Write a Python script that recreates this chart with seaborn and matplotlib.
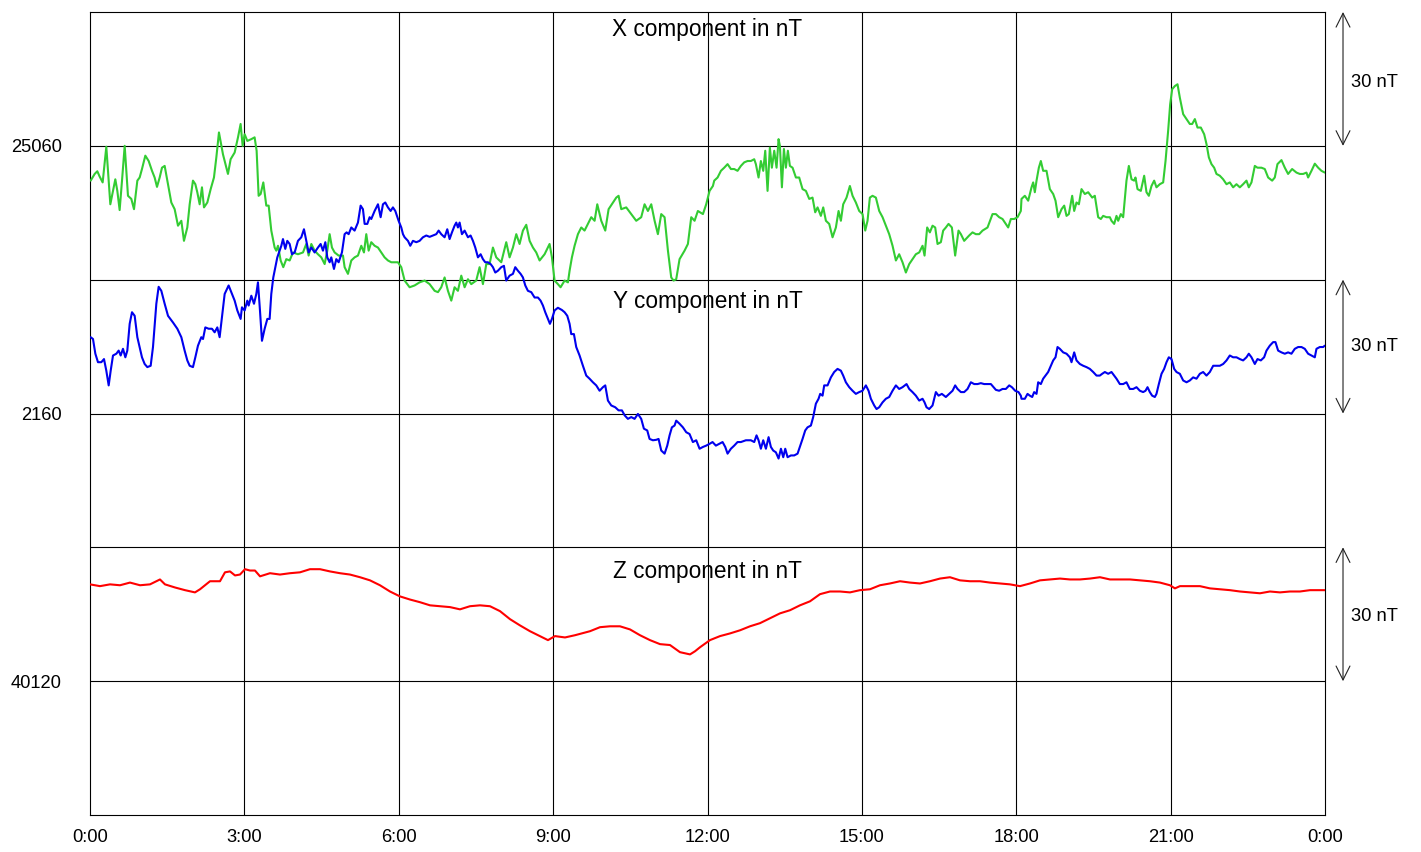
import pandas as pd
import seaborn as sns
import matplotlib.pyplot as plt

# X component (nT), hours UT
x_hours = [0.013, 0.091, 0.142, 0.188, 0.246, 0.317, 0.395, 0.447, 0.492, 0.531, 0.576, 0.622, 0.674, 0.738, 0.803, 0.855,
           0.920, 0.965, 1.010, 1.075, 1.140, 1.205, 1.256, 1.302, 1.354, 1.399, 1.451, 1.516, 1.580, 1.645, 1.710, 1.775,
           1.826, 1.891, 1.937, 2.001, 2.047, 2.085, 2.131, 2.176, 2.215, 2.280, 2.345, 2.409, 2.455, 2.506, 2.584, 2.681,
           2.733, 2.811, 2.876, 2.927, 2.966, 3.005, 3.057, 3.135, 3.199, 3.238, 3.277, 3.316, 3.368, 3.426, 3.472, 3.523,
           3.588, 3.620, 3.653, 3.705, 3.756, 3.815, 3.880, 3.944, 4.041, 4.139, 4.203, 4.249, 4.301, 4.365, 4.430, 4.495,
           4.560, 4.611, 4.657, 4.702, 4.754, 4.832, 4.916, 4.948, 5.013, 5.078, 5.142, 5.207, 5.272, 5.324, 5.369, 5.415,
           5.466, 5.531, 5.596, 5.661, 5.725, 5.790, 5.855, 5.984, 6.049, 6.082,
           6.114, 6.211, 6.308, 6.405, 6.503, 6.600, 6.697, 6.762, 6.826, 6.891, 6.956, 7.021, 7.085, 7.150, 7.215, 7.280,
           7.345, 7.409, 7.506, 7.571, 7.636, 7.701, 7.765, 7.830, 7.895, 7.992, 8.089, 8.154, 8.219, 8.284, 8.348, 8.413,
           8.478, 8.543, 8.608, 8.672, 8.737, 8.834, 8.931, 8.977, 9.028, 9.093, 9.145, 9.223, 9.288, 9.320, 9.365, 9.417,
           9.482, 9.547, 9.611, 9.676, 9.741, 9.806, 9.858, 9.935, 10.013, 10.078, 10.142, 10.227, 10.272, 10.324, 10.421,
           10.518, 10.615, 10.712, 10.777, 10.842, 10.907, 10.972, 11.036, 11.101, 11.166, 11.231, 11.295, 11.341, 11.392,
           11.457, 11.554, 11.619, 11.684, 11.749, 11.813, 11.911, 11.975, 12.040, 12.105,
           12.131, 12.196, 12.261, 12.325, 12.390, 12.455, 12.519, 12.584, 12.649, 12.714, 12.779, 12.843, 12.908, 12.940,
           12.992, 13.037, 13.083, 13.122, 13.167, 13.212, 13.251, 13.297, 13.342, 13.381, 13.407, 13.446, 13.485, 13.523,
           13.562, 13.601, 13.653, 13.718, 13.782, 13.847, 13.912, 13.977, 14.041, 14.093, 14.139, 14.203, 14.249, 14.301,
           14.365, 14.430, 14.495, 14.547, 14.592, 14.637, 14.702, 14.767, 14.819, 14.883, 14.948, 15.013, 15.065, 15.110,
           15.155, 15.207, 15.272, 15.337, 15.402, 15.466, 15.531, 15.596, 15.661, 15.725, 15.790, 15.855, 15.920, 15.984,
           16.049, 16.114, 16.179, 16.218, 16.269, 16.321, 16.373, 16.425, 16.470, 16.535, 16.580, 16.632, 16.684, 16.749,
           16.813, 16.878, 16.924, 16.988, 17.085, 17.150, 17.215, 17.280, 17.345, 17.442, 17.539, 17.604, 17.668, 17.733,
           17.798, 17.843, 17.895, 17.960, 18.025, 18.089,
           18.102, 18.167, 18.232, 18.297, 18.329, 18.361, 18.394, 18.439, 18.478, 18.523, 18.588, 18.653, 18.718, 18.763,
           18.815, 18.880, 18.932, 18.977, 19.022, 19.087, 19.126, 19.171, 19.217, 19.268, 19.333, 19.398, 19.476, 19.527,
           19.592, 19.644, 19.689, 19.754, 19.819, 19.851, 19.903, 19.948, 19.981, 20.032, 20.078, 20.142, 20.188, 20.240,
           20.291, 20.317, 20.356, 20.421, 20.486, 20.531, 20.577, 20.628, 20.680, 20.725, 20.790, 20.855, 20.901, 20.952,
           20.991, 21.030, 21.082, 21.134, 21.179, 21.244, 21.309, 21.373, 21.419, 21.471, 21.522, 21.587, 21.652, 21.697,
           21.743, 21.794, 21.846, 21.891, 21.956, 22.021, 22.086, 22.150, 22.215, 22.280, 22.345, 22.409, 22.474, 22.519,
           22.571, 22.636, 22.688, 22.765, 22.830, 22.895, 22.973, 23.024, 23.076, 23.154, 23.219, 23.283, 23.361, 23.446,
           23.510, 23.575, 23.640, 23.672, 23.737, 23.802, 23.867, 23.931, 23.996]
x_nt = [25052.2, 25053.7, 25054.3, 25053.1, 25051.8, 25059.8, 25046.9, 25049.9, 25052.5, 25049.9, 25045.6, 25052.2, 25060.0,
        25048.8, 25048.1, 25045.8, 25052.2, 25052.9, 25054.8, 25057.8, 25056.6, 25054.4, 25052.9, 25050.8, 25052.9, 25055.1,
        25055.5, 25051.4, 25047.3, 25045.8, 25042.1, 25043.2, 25038.7, 25041.7, 25046.9, 25052.2, 25051.4, 25049.6, 25046.9,
        25050.7, 25046.2, 25047.3, 25050.3, 25052.9, 25057.4, 25063.0, 25058.1, 25053.7, 25057.0, 25058.5, 25061.9, 25064.9,
        25060.0, 25062.6, 25061.1, 25061.5, 25061.9, 25058.9, 25048.8, 25049.2, 25051.8, 25046.6, 25046.6, 25041.0, 25037.2,
        25036.5, 25037.6, 25034.3, 25032.8, 25034.6, 25034.3, 25036.1, 25035.7, 25036.1, 25038.0, 25035.4, 25038.0, 25036.5,
        25035.7, 25035.0, 25033.5, 25036.5, 25040.2, 25037.2, 25036.1, 25035.4, 25035.4, 25032.8, 25031.3, 25034.3, 25035.0,
        25035.4, 25037.6, 25036.1, 25040.2, 25036.5, 25038.4, 25037.6, 25037.2, 25036.1, 25035.0, 25034.3, 25033.9, 25033.9,
        25032.8, 25031.3,
        25029.8, 25028.3, 25028.7, 25029.4, 25029.8, 25029.0, 25027.5, 25027.2, 25028.3, 25030.5, 25027.5, 25025.3, 25028.3,
        25027.5, 25030.9, 25028.3, 25030.1, 25029.0, 25029.8, 25032.8, 25029.0, 25033.5, 25033.5, 25037.2, 25035.0, 25033.9,
        25038.4, 25035.0, 25037.2, 25040.2, 25038.0, 25041.0, 25042.3, 25038.7, 25037.2, 25036.1, 25034.3, 25035.7, 25038.0,
        25035.0, 25029.8, 25029.0, 25028.3, 25029.8, 25029.4, 25032.0, 25035.0, 25037.6, 25040.2, 25041.7, 25041.0, 25042.5,
        25044.0, 25043.2, 25046.9, 25043.2, 25041.0, 25045.8, 25046.9, 25048.4, 25048.8, 25045.8, 25046.2, 25044.7, 25043.2,
        25044.0, 25046.9, 25045.4, 25046.9, 25043.2, 25040.2, 25044.7, 25044.0, 25036.5, 25030.5, 25029.8, 25030.1, 25034.6,
        25036.5, 25038.0, 25044.0, 25043.2, 25045.4, 25044.7, 25046.9, 25049.9, 25051.0,
        25052.2, 25052.9, 25054.4, 25055.1, 25055.9, 25054.8, 25054.8, 25054.4, 25055.5, 25056.3, 25056.6, 25056.6, 25057.0,
        25055.9, 25052.9, 25056.6, 25054.4, 25058.9, 25049.9, 25059.6, 25055.1, 25058.9, 25055.1, 25061.5, 25060.0, 25050.7,
        25059.3, 25055.1, 25058.9, 25055.5, 25055.1, 25052.9, 25052.9, 25050.3, 25049.9, 25048.1, 25048.4, 25045.1, 25046.2,
        25044.3, 25046.2, 25043.2, 25042.5, 25039.5, 25041.7, 25045.4, 25043.2, 25046.9, 25048.4, 25051.0, 25048.8, 25047.3,
        25045.4, 25044.7, 25041.0, 25043.2, 25048.4, 25048.8, 25048.4, 25045.4, 25044.0, 25042.1, 25040.2, 25037.6, 25034.3,
        25035.7, 25033.9, 25031.6, 25033.5, 25034.6, 25035.7, 25036.1, 25037.6, 25035.4, 25041.7, 25040.6, 25042.1, 25041.7,
        25038.0, 25038.4, 25041.0, 25041.7, 25042.5, 25041.7, 25035.4, 25041.0, 25040.2, 25038.7, 25039.9, 25040.6, 25040.2,
        25040.2, 25041.0, 25041.7, 25044.7, 25044.7, 25044.0, 25043.6, 25042.5, 25041.7, 25043.6, 25043.6, 25044.0, 25045.4,
        25048.1, 25048.8, 25047.7, 25050.7, 25051.8, 25049.6, 25052.2, 25055.1, 25056.6, 25054.4, 25054.4, 25050.3, 25049.2,
        25047.7, 25044.0, 25045.8, 25046.6, 25044.3, 25044.7, 25048.8, 25045.4, 25047.3, 25046.9, 25050.3, 25049.2, 25049.6,
        25048.4, 25048.8, 25044.0, 25043.6, 25044.3, 25044.0, 25044.0, 25043.2, 25042.5, 25044.3, 25043.2, 25044.7, 25044.0,
        25052.2, 25055.5, 25052.5, 25052.2, 25052.9, 25050.3, 25049.9, 25053.3, 25049.6, 25048.8, 25051.0, 25052.2, 25050.7,
        25051.4, 25051.8, 25056.6, 25063.4, 25069.3, 25072.7, 25073.4, 25073.8, 25070.8, 25067.1, 25066.0, 25064.9, 25064.9,
        25066.0, 25064.1, 25064.1, 25062.6, 25060.4, 25057.4, 25055.9, 25055.1, 25053.7, 25053.3, 25052.5, 25051.4, 25051.8,
        25050.7, 25051.4, 25050.7, 25051.4, 25052.2, 25050.7, 25051.8, 25055.5, 25055.1, 25055.1, 25054.8, 25052.9, 25052.2,
        25052.9, 25055.9, 25056.8, 25055.1, 25053.7, 25054.8, 25054.0, 25053.7, 25053.7, 25054.0, 25052.9, 25054.4, 25056.0,
        25055.1, 25054.4, 25054.0]

# Y component (nT)
y_hours = [0.013, 0.058, 0.104, 0.155, 0.220, 0.272, 0.317, 0.363, 0.402, 0.447, 0.512, 0.557, 0.596, 0.641, 0.687, 0.725,
           0.771, 0.816, 0.868, 0.920, 0.965, 1.010, 1.062, 1.114, 1.179, 1.224, 1.289, 1.334, 1.386, 1.451, 1.516, 1.613,
           1.697, 1.775, 1.839, 1.891, 1.937, 2.001, 2.047, 2.098, 2.163, 2.196, 2.241, 2.306, 2.370, 2.422, 2.474, 2.519,
           2.565, 2.617, 2.694, 2.759, 2.811, 2.863, 2.927, 2.953, 3.005, 3.057, 3.083, 3.135, 3.187, 3.232, 3.264, 3.303,
           3.342, 3.394, 3.446, 3.491, 3.523, 3.562, 3.601, 3.640, 3.685, 3.718, 3.750, 3.795, 3.834, 3.880, 3.925, 3.977,
           4.041, 4.106, 4.158, 4.203, 4.249, 4.301, 4.365, 4.430, 4.482, 4.527, 4.573, 4.611, 4.657, 4.689, 4.741, 4.786,
           4.832, 4.896, 4.948, 4.987, 5.026, 5.078, 5.142, 5.207, 5.259, 5.304, 5.337, 5.389, 5.434, 5.466, 5.531, 5.596,
           5.648, 5.693, 5.738, 5.790, 5.842, 5.887, 5.933, 5.997, 6.049, 6.082,
           6.114, 6.179, 6.224, 6.276, 6.341, 6.405, 6.470, 6.535, 6.600, 6.664, 6.729, 6.775, 6.826, 6.891, 6.943, 6.988,
           7.034, 7.085, 7.118, 7.150, 7.183, 7.228, 7.280, 7.345, 7.396, 7.442, 7.487, 7.539, 7.591, 7.636, 7.681, 7.733,
           7.785, 7.830, 7.876, 7.927, 7.992, 8.044, 8.089, 8.154, 8.219, 8.264, 8.316, 8.368, 8.413, 8.459, 8.510, 8.575,
           8.640, 8.705, 8.756, 8.802, 8.847, 8.899, 8.938, 8.977, 9.028, 9.093, 9.171, 9.223, 9.275, 9.320, 9.352, 9.404,
           9.449, 9.514, 9.579, 9.644, 9.708, 9.773, 9.838, 9.903, 9.968, 10.013, 10.065, 10.130, 10.207, 10.272, 10.337,
           10.389, 10.453, 10.518, 10.583, 10.648, 10.712, 10.764, 10.829, 10.874, 10.939, 11.004, 11.049, 11.101, 11.166,
           11.218, 11.263, 11.308, 11.360, 11.392, 11.457, 11.522, 11.587, 11.651, 11.716, 11.781, 11.846, 11.911, 11.975,
           12.040,
           12.098, 12.163, 12.228, 12.293, 12.345, 12.390, 12.455, 12.519, 12.584, 12.649, 12.746, 12.843, 12.908, 12.953,
           12.992, 13.037, 13.083, 13.135, 13.187, 13.232, 13.277, 13.329, 13.381, 13.427, 13.472, 13.511, 13.556, 13.621,
           13.685, 13.750, 13.795, 13.847, 13.899, 13.944, 14.009, 14.054, 14.106, 14.158, 14.190, 14.236, 14.268, 14.333,
           14.398, 14.462, 14.527, 14.592, 14.637, 14.689, 14.754, 14.819, 14.883, 14.948, 15.013, 15.078, 15.130, 15.175,
           15.240, 15.285, 15.337, 15.402, 15.466, 15.531, 15.596, 15.661, 15.725, 15.790, 15.868, 15.920, 15.984, 16.049,
           16.114, 16.179, 16.218, 16.256, 16.308, 16.373, 16.438, 16.490, 16.554, 16.632, 16.697, 16.762, 16.813, 16.859,
           16.924, 16.988, 17.053, 17.118, 17.183, 17.248, 17.312, 17.377, 17.442, 17.507, 17.552, 17.604, 17.668, 17.733,
           17.798, 17.863, 17.915, 17.979, 18.044, 18.089,
           18.102, 18.167, 18.219, 18.264, 18.310, 18.348, 18.394, 18.426, 18.478, 18.523, 18.569, 18.620, 18.672, 18.718,
           18.763, 18.802, 18.847, 18.912, 18.977, 19.042, 19.074, 19.126, 19.171, 19.236, 19.301, 19.365, 19.430, 19.495,
           19.560, 19.624, 19.670, 19.722, 19.786, 19.851, 19.903, 19.948, 20.013, 20.078, 20.142, 20.207, 20.272, 20.337,
           20.402, 20.466, 20.512, 20.551, 20.596, 20.641, 20.693, 20.725, 20.771, 20.823, 20.874, 20.920, 20.965, 21.017,
           21.069, 21.114, 21.179, 21.244, 21.309, 21.373, 21.438, 21.503, 21.568, 21.632, 21.697, 21.762, 21.827, 21.891,
           21.956, 22.021, 22.086, 22.150, 22.215, 22.280, 22.345, 22.409, 22.474, 22.519, 22.571, 22.636, 22.688, 22.753,
           22.817, 22.863, 22.927, 22.992, 23.037, 23.089, 23.154, 23.219, 23.283, 23.348, 23.413, 23.478, 23.543, 23.607,
           23.672, 23.737, 23.802, 23.834, 23.899, 23.964, 23.996]
y_nt = [2177.1, 2176.7, 2173.4, 2171.5, 2171.5, 2172.2, 2169.6, 2166.3, 2169.6, 2173.0, 2173.4, 2174.1, 2173.0, 2174.5,
        2172.6, 2174.1, 2180.1, 2182.7, 2181.9, 2177.1, 2174.9, 2172.6, 2171.1, 2170.4, 2170.7, 2174.9, 2184.6, 2188.4,
        2187.5, 2184.6, 2181.9, 2180.4, 2179.0, 2177.1, 2174.1, 2171.9, 2170.7, 2170.4, 2172.6, 2175.2, 2177.1, 2176.7,
        2179.3, 2179.0, 2179.0, 2178.2, 2179.3, 2177.1, 2181.6, 2186.8, 2188.7, 2186.8, 2185.3, 2183.1, 2181.2, 2183.8,
        2183.1, 2185.3, 2184.2, 2186.4, 2184.6, 2186.8, 2189.4, 2183.1, 2176.3, 2179.0, 2181.2, 2181.2, 2186.8, 2190.5,
        2192.8, 2195.0, 2196.5, 2197.6, 2199.1, 2196.9, 2198.7, 2198.0, 2195.7, 2196.1, 2198.7, 2199.5, 2201.3, 2198.7,
        2196.1, 2197.2, 2196.1, 2197.2, 2198.0, 2196.5, 2198.4, 2195.0, 2193.9, 2195.0, 2192.4, 2194.6, 2193.9, 2196.1,
        2200.2, 2200.6, 2200.2, 2201.7, 2201.0, 2202.8, 2206.6, 2205.8, 2202.5, 2202.5, 2204.0, 2203.6, 2205.4, 2206.9,
        2204.0, 2206.9, 2207.3, 2206.2, 2205.4, 2206.2, 2205.4, 2203.2, 2201.7, 2200.2,
        2199.5, 2198.7, 2197.6, 2198.7, 2198.4, 2198.7, 2199.5, 2199.9, 2199.6, 2199.9, 2200.2, 2201.0, 2200.2, 2199.5,
        2201.3, 2199.1, 2200.6, 2202.1, 2202.8, 2201.7, 2202.8, 2200.2, 2201.0, 2199.5, 2199.9, 2198.7, 2197.2, 2195.0,
        2195.7, 2194.6, 2193.9, 2193.9, 2193.5, 2192.8, 2191.6, 2192.0, 2192.8, 2193.1, 2189.8, 2190.9, 2191.3, 2192.8,
        2192.0, 2191.3, 2190.5, 2188.7, 2187.5, 2187.2, 2186.0, 2186.0, 2185.3, 2184.2, 2182.7, 2181.2, 2180.1, 2181.2,
        2183.1, 2183.7, 2183.2, 2182.7, 2181.9, 2180.1, 2177.8, 2177.8, 2174.9, 2173.0, 2170.7, 2168.5, 2167.8, 2167.0,
        2166.3, 2165.1, 2165.9, 2166.3, 2162.9, 2161.8, 2161.4, 2160.7, 2160.7, 2159.6, 2158.8, 2159.2, 2158.8, 2159.9,
        2158.8, 2156.6, 2156.2, 2154.3, 2154.0, 2154.1, 2154.3, 2151.7, 2151.0, 2152.8, 2155.1, 2156.9, 2157.3, 2158.4,
        2157.7, 2156.9, 2155.8, 2155.4, 2153.6, 2154.0, 2152.1, 2152.5, 2152.8, 2153.2,
        2153.6, 2152.8, 2153.2, 2153.6, 2152.5, 2151.0, 2152.1, 2152.8, 2153.6, 2153.6, 2154.0, 2154.0, 2153.6, 2155.1,
        2154.0, 2152.1, 2154.0, 2152.1, 2154.7, 2152.5, 2151.7, 2151.3, 2149.9, 2152.1, 2150.2, 2152.1, 2150.2, 2150.6,
        2150.6, 2151.0, 2152.5, 2154.3, 2156.2, 2156.9, 2157.3, 2159.2, 2162.2, 2163.3, 2164.4, 2164.0, 2166.3, 2166.3,
        2168.1, 2169.3, 2170.0, 2169.6, 2168.5, 2167.0, 2165.9, 2165.1, 2164.4, 2164.8, 2165.1, 2166.3, 2165.1, 2163.3,
        2161.8, 2161.0, 2161.4, 2162.5, 2163.3, 2163.7, 2165.1, 2166.3, 2165.5, 2165.9, 2166.6, 2165.5, 2164.8, 2164.0,
        2162.9, 2163.3, 2162.5, 2161.4, 2161.0, 2161.8, 2164.8, 2164.0, 2164.4, 2163.7, 2164.4, 2165.1, 2166.3, 2165.5,
        2164.8, 2164.8, 2165.5, 2167.0, 2166.6, 2166.6, 2166.8, 2166.6, 2166.6, 2166.6, 2166.0, 2165.3, 2165.1, 2165.5,
        2165.5, 2166.3, 2165.9, 2165.1, 2164.8, 2164.0,
        2163.3, 2163.3, 2164.4, 2164.0, 2163.7, 2164.8, 2164.4, 2167.0, 2166.6, 2167.8, 2168.5, 2169.3, 2170.7, 2171.9,
        2172.6, 2174.9, 2174.5, 2173.7, 2173.4, 2172.6, 2171.5, 2173.7, 2171.9, 2171.1, 2170.7, 2170.4, 2170.0, 2169.3,
        2168.5, 2168.5, 2168.9, 2169.3, 2168.9, 2169.3, 2168.5, 2167.8, 2166.6, 2166.6, 2167.0, 2165.5, 2165.5, 2165.9,
        2165.1, 2164.8, 2165.1, 2165.9, 2164.8, 2164.0, 2163.7, 2164.4, 2166.6, 2168.9, 2170.0, 2171.5, 2172.6, 2172.2,
        2170.0, 2169.3, 2168.9, 2167.4, 2167.0, 2167.4, 2168.1, 2167.8, 2168.9, 2169.3, 2168.5, 2169.3, 2170.7, 2170.7,
        2170.7, 2171.1, 2171.9, 2173.0, 2172.6, 2172.6, 2172.2, 2171.9, 2172.6, 2173.4, 2172.6, 2171.1, 2172.2, 2171.9,
        2172.6, 2174.1, 2175.2, 2176.0, 2176.0, 2174.1, 2173.7, 2173.4, 2173.7, 2173.4, 2174.5, 2174.9, 2174.9, 2174.5,
        2173.4, 2173.0, 2172.6, 2174.5, 2174.9, 2174.9, 2175.2]

# Z component (nT)
z_hours = [0.000, 0.194, 0.389, 0.583, 0.777, 0.972, 1.166, 1.360, 1.457, 1.652, 1.846, 2.040, 2.138, 2.332, 2.526, 2.623,
           2.721, 2.818, 2.915, 3.012, 3.109, 3.206, 3.304, 3.498, 3.692, 3.887, 4.081, 4.275, 4.470, 4.664, 4.858, 5.052,
           5.247, 5.441, 5.635, 5.830, 6.024, 6.218, 6.413, 6.607, 6.801, 6.996, 7.190, 7.384, 7.579, 7.773, 7.967, 8.162,
           8.356, 8.550, 8.745, 8.900, 9.036, 9.231, 9.425, 9.717, 9.911, 10.105, 10.299, 10.494, 10.688, 10.882, 11.077,
           11.271, 11.465, 11.660, 11.757, 11.854, 12.048, 12.243, 12.437, 12.631, 12.826, 13.020, 13.214, 13.409, 13.603,
           13.797, 13.992, 14.186, 14.380, 14.575, 14.769, 14.963, 15.157, 15.352, 15.546, 15.741, 15.935, 16.129, 16.323,
           16.518, 16.712, 16.906, 17.101, 17.295, 17.489, 17.684, 17.878, 18.072, 18.267, 18.461, 18.655, 18.850, 19.044,
           19.238, 19.433, 19.627, 19.821, 20.016, 20.210, 20.404, 20.598, 20.793, 20.987, 21.084, 21.181, 21.376, 21.570,
           21.764, 21.959, 22.153, 22.347, 22.542, 22.736, 22.930, 23.125, 23.319, 23.513, 23.708, 24.000]
z_nt = [40141.7, 40141.3, 40141.7, 40141.5, 40142.1, 40141.5, 40141.7, 40142.8, 40141.7, 40141.0, 40140.4, 40139.9,
        40140.6, 40142.4, 40142.4, 40144.4, 40144.6, 40143.7, 40143.9, 40145.1, 40144.8, 40144.8, 40143.5, 40144.2,
        40143.9, 40144.2, 40144.4, 40145.1, 40145.1, 40144.6, 40144.2, 40143.9, 40143.3, 40142.6, 40141.5, 40140.1,
        40139.0, 40138.3, 40137.7, 40137.0, 40136.8, 40136.6, 40136.1, 40136.8, 40137.0, 40136.8, 40135.7, 40133.9,
        40132.5, 40131.2, 40130.1, 40129.2, 40130.1, 40129.8, 40130.3, 40131.2, 40132.1, 40132.3, 40132.3, 40131.6,
        40130.3, 40129.2, 40128.3, 40128.1, 40126.5, 40126.0, 40126.7, 40127.6, 40129.2, 40130.1, 40130.7, 40131.4,
        40132.3, 40133.0, 40134.1, 40135.2, 40135.9, 40137.0, 40137.9, 40139.5, 40140.1, 40140.1, 40139.9, 40140.4,
        40140.6, 40141.5, 40141.9, 40142.4, 40142.1, 40141.9, 40142.4, 40143.0, 40143.3, 40142.6, 40142.4, 40142.4,
        40142.1, 40141.9, 40141.7, 40141.3, 40141.9, 40142.6, 40142.8, 40143.0, 40142.8, 40142.8, 40143.0, 40143.3,
        40142.8, 40142.8, 40142.8, 40142.6, 40142.4, 40142.1, 40141.5, 40140.8, 40141.3, 40141.3, 40141.3, 40140.8,
        40140.6, 40140.4, 40140.1, 40139.9, 40139.7, 40140.1, 40139.9, 40140.1, 40140.1, 40140.4, 40140.4]

components = ['X', 'Y', 'Z']
base_values = [25060, 2160, 40120]       # labelled reference level of each panel
base_rows = [150, 90, 30]                # where that level sits on the stacked 180 nT axis
colors = {'X': '#33cc33', 'Y': '#0000ee', 'Z': '#ff0000'}
hour_labels = ['0:00', '3:00', '6:00', '9:00', '12:00', '15:00', '18:00', '21:00', '0:00']


def main():
    sns.set_style('white')
    plt.rcParams['font.family'] = ['Liberation Sans', 'DejaVu Sans']

    frames = []
    for comp, hrs, vals, base, row in zip(components, [x_hours, y_hours, z_hours],
                                          [x_nt, y_nt, z_nt], base_values, base_rows):
        df = pd.DataFrame({'hour': hrs, 'nT': vals})
        df['component'] = comp
        df['stacked'] = row + (df['nT'] - base)
        frames.append(df)
    data = pd.concat(frames, ignore_index=True)

    fig = plt.figure(figsize=(14.21, 8.52), dpi=100)
    ax = fig.add_axes([90 / 1421, 1 - 815 / 852, 1235 / 1421, 803 / 852])

    # grid
    for h in range(3, 24, 3):
        ax.axvline(h, color='black', lw=0.8, zorder=1)
    for r in [30, 60, 90, 120, 150]:
        ax.axhline(r, color='black', lw=0.8, zorder=1)

    sns.lineplot(data=data, x='hour', y='stacked', hue='component', palette=colors,
                 estimator=None, legend=False, lw=1.5, ax=ax, zorder=3)

    ax.set_xlim(0, 24)
    ax.set_ylim(0, 180)
    ax.set_xlabel('')
    ax.set_ylabel('')

    ax.set_xticks(range(0, 25, 3))
    ax.set_xticklabels(hour_labels)
    ax.set_xticks(range(0, 25), minor=True)
    ax.tick_params(axis='x', which='major', direction='in', length=11.5, width=0.8,
                   pad=10, labelsize=13.2, colors='black')
    ax.tick_params(axis='x', which='minor', direction='in', length=8.5, width=0.8)

    ax.set_yticks(base_rows)
    ax.set_yticklabels([str(v) for v in base_values])
    ax.tick_params(axis='y', which='major', direction='out', length=11.5, width=0.8,
                   pad=9, labelsize=13.2, colors='black')

    for sp in ax.spines.values():
        sp.set_color('black')
        sp.set_linewidth(0.8)

    # panel titles
    for comp, yy in zip(components, [176.0, 115.2, 54.5]):
        ax.text(12, yy, f'{comp} component in nT', ha='center', va='center',
                fontsize=16.3, color='black', zorder=4)

    # 30 nT scale arrows on the right
    for top, ytxt in zip([180, 120, 60], [164.3, 105.1, 44.6]):
        ax.annotate('', xy=(24.35, top), xytext=(24.35, top - 30),
                    arrowprops=dict(arrowstyle='<->', color='#222222', lw=0.8,
                                    mutation_scale=25, shrinkA=0, shrinkB=0),
                    annotation_clip=False)
        ax.text(24.5, ytxt, '30 nT', ha='left', va='center', fontsize=13.2,
                color='black', clip_on=False)

    fig.savefig('out.png', dpi=100)


if __name__ == '__main__':
    main()
